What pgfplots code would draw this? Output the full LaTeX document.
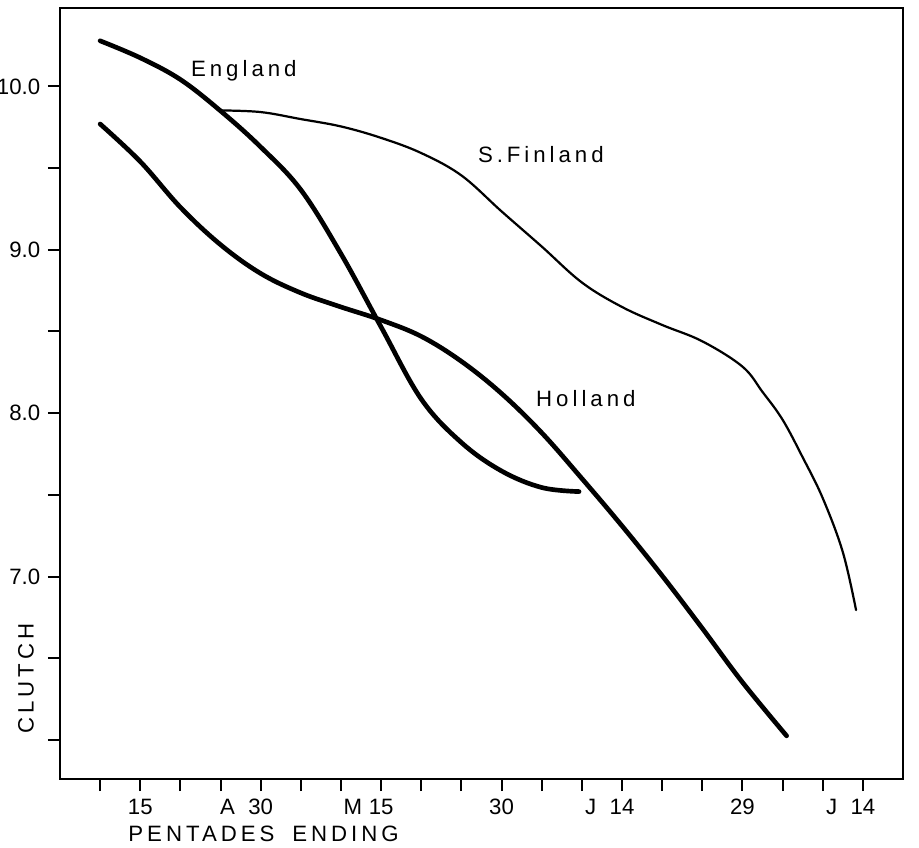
\documentclass[border=0pt]{standalone}
\usepackage{fontspec}
\setmainfont{Liberation Sans}
\newfontfamily\spaced[LetterSpace=18]{Liberation Sans}
\usepackage{pgfplots}
\pgfplotsset{compat=1.18}

\begin{document}
\begin{tikzpicture}
\begin{axis}[
  scale only axis, width=379.35pt, height=347pt,
  xmin=-1, xmax=20, ymin=5.76, ymax=10.48,
  axis line style={line width=0.9pt},
  xtick={0,...,19},
  xticklabels={{},15,{},{},\llap{A\hspace{6pt}}30,{},{},\llap{M\hspace{3pt}}15,{},{},30,{},{},\llap{J\hspace{6pt}}14,{},{},29,{},{},\llap{J\hspace{6pt}}14},
  ytick={6,6.5,...,10},
  yticklabels={{},{},7.0,{},8.0,{},9.0,{},10.0},
  tick align=outside, major tick length=5.4pt,
  tick style={line width=0.9pt, black},
  xtick pos=bottom, ytick pos=left,
  ticklabel style={font=\fontsize{10}{12}\selectfont},
  clip=false,
]
\coordinate (sw) at (rel axis cs:0,0);
\coordinate (ne) at (rel axis cs:1,1);

% England
\addplot[smooth, tension=0.6, black, line width=2.1pt, line cap=round] coordinates {
(0,10.279) (1,10.175) (2,10.042) (3,9.850) (4,9.629) (5,9.367)
(6,8.975) (7,8.527) (8,8.086) (9,7.820) (10,7.646) (11,7.545) (11.93,7.520)
};
% Holland
\addplot[smooth, tension=0.6, black, line width=2.1pt, line cap=round] coordinates {
(0,9.770) (1,9.540) (2,9.260) (3,9.031) (4,8.855) (5,8.736) (6,8.650)
(7,8.570) (8,8.470) (9,8.317) (10,8.120) (11,7.880) (12,7.600) (13,7.310)
(14,7.005) (15,6.683) (16,6.353) (17.10,6.025)
};
% S. Finland
\addplot[smooth, tension=0.6, black, line width=1.0pt, line cap=round] coordinates {
(3,9.853) (4,9.843) (5,9.800) (6,9.755) (7,9.685) (8,9.592) (9,9.455)
(10,9.235) (11,9.020) (12,8.800) (13,8.650) (14,8.540) (15,8.440)
(16,8.285) (16.5,8.130) (17,7.960) (17.5,7.730) (18,7.480) (18.5,7.150)
(18.83,6.795)
};

\node[font=\spaced\fontsize{10}{12}\selectfont] at (axis cs:3.58,10.094) {England};
\node[font=\spaced\fontsize{10}{12}\selectfont] at (axis cs:10.98,9.585) {S.\,Finland};
\node[font=\spaced\fontsize{10}{12}\selectfont] at (axis cs:12.10,8.089) {Holland};

\node[font=\spaced\fontsize{10}{12}\selectfont, rotate=90, inner sep=0pt] at ([xshift=-15.3pt]rel axis cs:0,0.13) {CLUTCH};
\node[font=\spaced\fontsize{10}{12}\selectfont, anchor=north west, inner sep=0pt] at ([xshift=30.6pt,yshift=-20.7pt]rel axis cs:0,0) {PENTADES\hspace{8pt}ENDING};
\end{axis}
\pgfresetboundingbox
\path ([shift={(-27pt,-30.6pt)}]sw) rectangle ([shift={(7.2pt,3.6pt)}]ne);
\end{tikzpicture}
\end{document}
